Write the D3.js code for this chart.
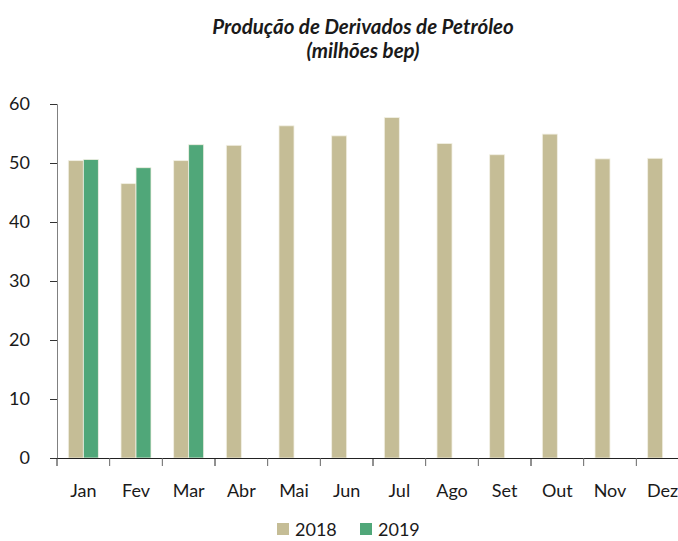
<!DOCTYPE html>
<meta charset="utf-8">
<script src="https://cdn.jsdelivr.net/npm/d3@7"></script>
<style>
  body { margin: 0; background: #fff; }
  text { font-family: Lato, Roboto, sans-serif; fill: #1a1a1a; }
</style>
<svg width="678" height="541"></svg>
<script>

// months (categories)
const months = ['Jan','Fev','Mar','Abr','Mai','Jun','Jul','Ago','Set','Out','Nov','Dez'];
// series values, millions bep
const v2018 = [50.4, 46.5, 50.4, 53.0, 56.3, 54.6, 57.7, 53.3, 51.4, 54.9, 50.7, 50.8];
const v2019 = [50.6, 49.2, 53.1];
const yTicks = [0, 10, 20, 30, 40, 50, 60];
const seriesNames = ['2018', '2019'];
const colors = ['#c5bd96', '#50a779'];

var margin = {top: 104, right: -11, bottom: 83, left: 57},
    width = 678 - margin.left - margin.right,
    height = 541 - margin.top - margin.bottom;

var svg = d3.select('svg');
var g = svg.append('g')
    .attr('transform', 'translate(' + margin.left + ',' + margin.top + ')');

// title
svg.append('text')
    .attr('x', 363).attr('y', 34)
    .attr('text-anchor', 'middle')
    .style('font-size', '20.5px').style('font-weight', 'bold').style('font-style', 'italic')
    .text('Produção de Derivados de Petróleo');
svg.append('text')
    .attr('x', 363).attr('y', 58)
    .attr('text-anchor', 'middle')
    .style('font-size', '20.5px').style('font-weight', 'bold').style('font-style', 'italic')
    .text('(milhões bep)');

var x = d3.scaleBand()
    .domain(months)
    .range([0, width]);

var xInner = d3.scaleBand()
    .domain(seriesNames)
    .range([x.bandwidth() / 2 - 15, x.bandwidth() / 2 + 15]);

var y = d3.scaleLinear()
    .domain([0, 60])
    .range([height, 0]);

// y axis
var yAxis = g.append('g')
    .call(d3.axisLeft(y).tickValues(yTicks).tickSize(7).tickPadding(20));
yAxis.select('.domain').attr('stroke', '#808080');
yAxis.selectAll('.tick line').attr('stroke', '#333');
yAxis.selectAll('text').style('font-size', '18px');

// bars
var data = [];
months.forEach(function (m, i) {
  data.push({m: m, s: '2018', v: v2018[i]});
  if (v2019[i] != null) data.push({m: m, s: '2019', v: v2019[i]});
});

g.append('g')
  .selectAll('rect')
  .data(data)
  .enter()
  .append('rect')
    .attr('x', function (d) { return x(d.m) + xInner(d.s); })
    .attr('y', function (d) { return y(d.v); })
    .attr('width', xInner.bandwidth())
    .attr('height', function (d) { return height - y(d.v); })
    .attr('fill', function (d) { return d.s === '2018' ? colors[0] : colors[1]; })
    .attr('stroke', '#f2f0e4')
    .attr('stroke-width', 0.8);

// x axis
var xAxis = g.append('g')
    .attr('transform', 'translate(0,' + height + ')')
    .call(d3.axisBottom(x).tickSize(0).tickPadding(26).tickSizeOuter(0));
xAxis.select('.domain').attr('stroke', '#222').attr('stroke-width', 1.2);
xAxis.selectAll('text').style('font-size', '18px');
// separators between months
xAxis.selectAll('.sep')
  .data(months)
  .enter()
  .append('line')
    .attr('x1', function (d) { return x(d); })
    .attr('x2', function (d) { return x(d); })
    .attr('y1', 0).attr('y2', 8)
    .attr('stroke', function (d, i) { return i % 3 === 0 ? '#222' : '#666'; });

// legend
var legend = svg.append('g');
var lx = [277, 360];
seriesNames.forEach(function (s, i) {
  legend.append('rect')
    .attr('x', lx[i]).attr('y', 523)
    .attr('width', 12).attr('height', 12)
    .attr('fill', colors[i]);
  legend.append('text')
    .attr('x', lx[i] + 18).attr('y', 536)
    .style('font-size', '18px')
    .text(s);
});

</script>
